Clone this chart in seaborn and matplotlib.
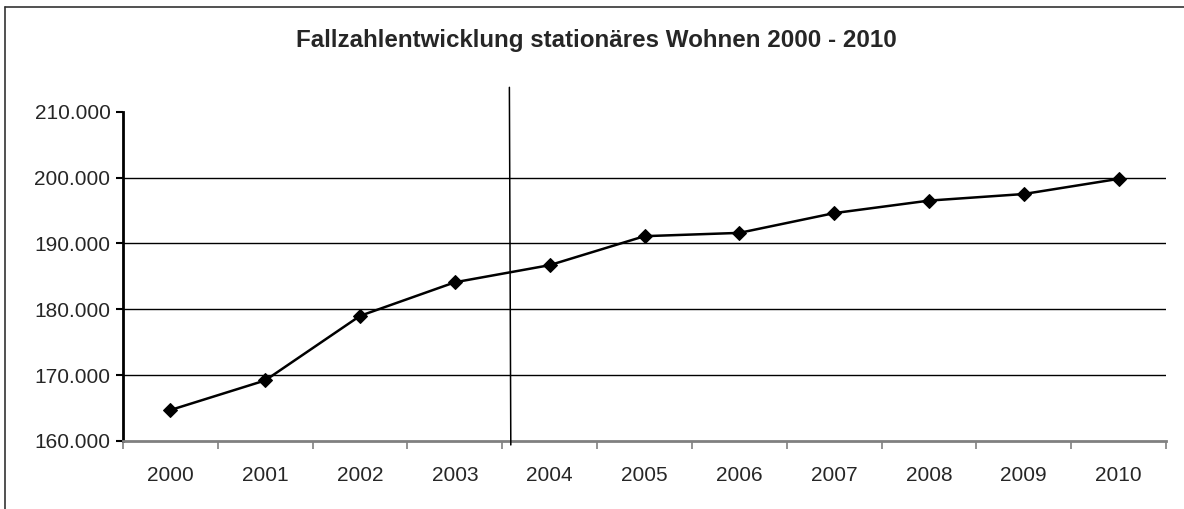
import numpy as np
import pandas as pd
import seaborn as sns
import matplotlib.pyplot as plt
from matplotlib.lines import Line2D
from matplotlib.ticker import FuncFormatter, FixedLocator

# Fallzahlen stationäres Wohnen
jahre = ["2000", "2001", "2002", "2003", "2004", "2005", "2006", "2007", "2008", "2009", "2010"]
fallzahlen = [164700, 169200, 179000, 184100, 186700, 191100, 191600, 194600, 196500, 197500, 199800]
y_ticks = [160000, 170000, 180000, 190000, 200000, 210000]

titel = "Fallzahlentwicklung stationäres Wohnen 2000 - 2010"

sns.set_style("white")
plt.rcParams['font.family'] = ['Liberation Sans', 'DejaVu Sans']

df = pd.DataFrame({"pos": np.arange(len(jahre)), "jahr": jahre, "faelle": fallzahlen})

fig = plt.figure(figsize=(11.84, 5.09), dpi=100)
ax = fig.add_axes([123 / 1184, 68 / 509, (1166 - 123) / 1184, (441 - 111.7) / 509])

sns.lineplot(data=df, x="pos", y="faelle", ax=ax, color="black", linewidth=1.8,
             marker="D", markersize=7, markeredgecolor="black", zorder=5)

ax.set_xlim(-0.5, len(jahre) - 0.5)
ax.set_ylim(y_ticks[0], y_ticks[-1])

# y axis
ax.yaxis.set_major_locator(FixedLocator(y_ticks))
ax.yaxis.set_major_formatter(FuncFormatter(lambda v, p: f"{int(v):,}".replace(",", ".")))
ax.tick_params(axis="y", which="major", left=True, length=5, width=1.5, color="black",
               labelsize=15, pad=4)
ax.grid(axis="y", color="black", linewidth=1)
gl = ax.get_ygridlines()
gl[0].set_visible(False)
gl[-1].set_visible(False)

# x axis: ticks between categories, labels in centres
ax.set_xticks(np.arange(len(jahre) + 1) - 0.5)
ax.set_xticklabels([])
ax.set_xticks(df["pos"], minor=True)
ax.set_xticklabels(df["jahr"], minor=True)
ax.tick_params(axis="x", which="major", bottom=True, length=6, width=1.2, color="#808080")
ax.tick_params(axis="x", which="minor", bottom=False, length=0, labelsize=15, pad=18)

for s in ["top", "right"]:
    ax.spines[s].set_visible(False)
ax.spines["left"].set_color("black")
ax.spines["left"].set_linewidth(2)
ax.spines["bottom"].set_color("#808080")
ax.spines["bottom"].set_linewidth(2)

ax.set_xlabel("")
ax.set_ylabel("")

# Trennlinie zwischen 2003 und 2004
ax.plot([3.575, 3.59], [213700, 159400], color="black", linewidth=1.1, clip_on=False, zorder=6)

fig.text(596 / 1184, 1 - 40 / 509, titel, ha="center", va="center",
         fontsize=17.4, fontweight="bold")

# Rahmen (nur oben und links sichtbar)
fig.add_artist(Line2D([5 / 1184, 1], [1 - 7 / 509, 1 - 7 / 509], color="#333333", linewidth=1.2))
fig.add_artist(Line2D([5 / 1184, 5 / 1184], [0, 1 - 7 / 509], color="#333333", linewidth=1.2))

fig.savefig("out.png", dpi=100)
